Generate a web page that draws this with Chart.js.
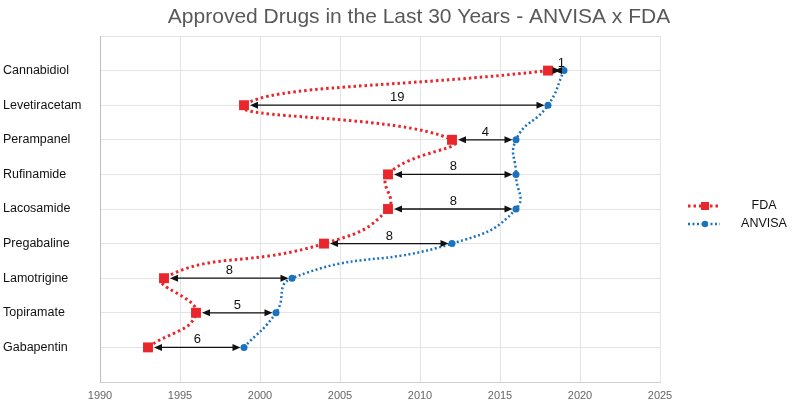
<!DOCTYPE html>
<html>
<head>
<meta charset="utf-8">
<script src="https://cdn.jsdelivr.net/npm/chart.js@4.4.0/dist/chart.umd.min.js"></script>
<style>
  html, body { margin: 0; padding: 0; background: #fff; }
  #wrap { width: 793px; height: 400px; }
</style>
</head>
<body>
<div id="wrap"><canvas id="chart" width="793" height="400"></canvas></div>
<script>
// drugs from top to bottom of the chart
const drugs = ['Cannabidiol', 'Levetiracetam', 'Perampanel', 'Rufinamide', 'Lacosamide',
               'Pregabaline', 'Lamotrigine', 'Topiramate', 'Gabapentin'];
const fdaYears    = [2018, 1999, 2012, 2008, 2008, 2004, 1994, 1996, 1993];
const anvisaYears = [2019, 2018, 2016, 2016, 2016, 2012, 2002, 2001, 1999];
const gapLabels   = ['1', '19', '4', '8', '8', '8', '8', '5', '6'];
const yearTicks   = [1990, 1995, 2000, 2005, 2010, 2015, 2020, 2025];

const RED = '#e8262b';
const BLUE = '#1b72be';
const FONT = '"Liberation Sans", Arial, sans-serif';

// double arrows + gap labels between the two dates
const arrowPlugin = {
    id: 'arrows',
    afterDatasetsDraw(chart) {
        const { ctx, scales: { x, y } } = chart;
        ctx.save();
        ctx.strokeStyle = '#111';
        ctx.fillStyle = '#111';
        ctx.lineWidth = 1.3;
        drugs.forEach((d, i) => {
            const py = y.getPixelForValue(i + 1);
            const x1 = x.getPixelForValue(fdaYears[i]) + 6;
            const x2 = x.getPixelForValue(anvisaYears[i]) - 3.5;
            ctx.beginPath();
            ctx.moveTo(x1 + 4, py);
            ctx.lineTo(x2 - 4, py);
            ctx.stroke();
            const head = (tx, dir) => {
                ctx.beginPath();
                ctx.moveTo(tx, py);
                ctx.lineTo(tx - dir * 8, py - 3.5);
                ctx.lineTo(tx - dir * 8, py + 3.5);
                ctx.closePath();
                ctx.fill();
            };
            head(x1, -1);
            head(x2, 1);
            ctx.font = '13px ' + FONT;
            ctx.textAlign = 'center';
            ctx.textBaseline = 'alphabetic';
            ctx.fillText(gapLabels[i], (x1 + x2) / 2 + (i === 0 ? 4 : 0), py - 4);
        });
        ctx.restore();
    }
};

// title and right-hand legend
const decorPlugin = {
    id: 'decor',
    afterDraw(chart) {
        const ctx = chart.ctx;
        ctx.save();
        ctx.fillStyle = '#595959';
        ctx.font = '21px ' + FONT;
        ctx.textAlign = 'center';
        ctx.textBaseline = 'middle';
        ctx.fillText('Approved Drugs in the Last 30 Years - ANVISA x FDA', 419, 17);

        const items = [
            { label: 'FDA', color: RED, y: 206, width: 3, dash: [2.5, 3], shape: 'rect' },
            { label: 'ANVISA', color: BLUE, y: 224, width: 2.5, dash: [2, 2.5], shape: 'circle' }
        ];
        items.forEach(it => {
            ctx.strokeStyle = it.color;
            ctx.fillStyle = it.color;
            ctx.lineWidth = it.width;
            ctx.setLineDash(it.dash);
            ctx.beginPath();
            ctx.moveTo(688, it.y);
            ctx.lineTo(720, it.y);
            ctx.stroke();
            ctx.setLineDash([]);
            if (it.shape === 'rect') {
                ctx.fillRect(701, it.y - 4, 8, 8);
            } else {
                ctx.beginPath();
                ctx.arc(705, it.y, 3.2, 0, Math.PI * 2);
                ctx.fill();
            }
            ctx.fillStyle = '#111';
            ctx.font = '12.5px ' + FONT;
            ctx.textAlign = 'center';
            ctx.fillText(it.label, 764, it.y);
        });
        ctx.restore();
    }
};

new Chart(document.getElementById('chart'), {
    type: 'line',
    data: {
        datasets: [
            {
                label: 'FDA',
                data: fdaYears.map((v, i) => ({ x: v, y: i + 1 })),
                borderColor: RED, backgroundColor: RED,
                borderWidth: 3, borderDash: [2.5, 3],
                tension: 0.5,
                pointStyle: 'rect', pointRadius: 7, pointBorderWidth: 0
            },
            {
                label: 'ANVISA',
                data: anvisaYears.map((v, i) => ({ x: v, y: i + 1 })),
                borderColor: BLUE, backgroundColor: BLUE,
                borderWidth: 2.5, borderDash: [2, 2.5],
                tension: 0.5,
                pointStyle: 'circle', pointRadius: 3.5, pointBorderWidth: 0
            }
        ]
    },
    options: {
        responsive: false,
        animation: false,
        layout: { padding: { top: 36, right: 133, left: 3, bottom: 0 } },
        plugins: { legend: { display: false }, title: { display: false }, tooltip: { enabled: false } },
        scales: {
            x: {
                type: 'linear', min: 1990, max: 2025,
                afterBuildTicks: s => { s.ticks = yearTicks.map(v => ({ value: v })); },
                afterFit: s => { s.height = 18; },
                grid: { color: '#e4e4e4', drawTicks: false },
                border: { color: '#cfcfcf' },
                ticks: { color: '#666', padding: 7, font: { size: 11, family: FONT }, callback: v => String(v) }
            },
            y: {
                type: 'linear', min: 0, max: 10, reverse: true,
                afterFit: s => { s.width = 97; },
                grid: { color: '#e4e4e4', drawTicks: false },
                border: { color: '#bdbdbd' },
                ticks: {
                    stepSize: 1, autoSkip: false, crossAlign: 'far', color: '#111',
                    font: { size: 12.5, family: FONT },
                    callback: v => drugs[v - 1] || ''
                }
            }
        }
    },
    plugins: [arrowPlugin, decorPlugin]
});
</script>
</body>
</html>
